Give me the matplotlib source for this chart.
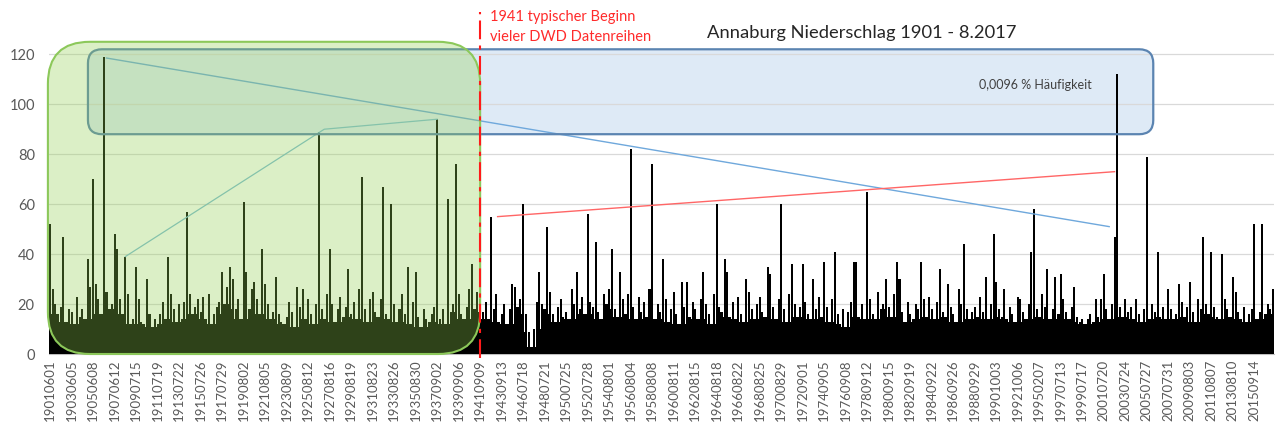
import matplotlib
matplotlib.use("Agg")
import matplotlib.pyplot as plt
from matplotlib.patches import FancyBboxPatch
from matplotlib.transforms import IdentityTransform
import numpy as np

plt.rcParams["font.family"] = ["Lato", "DejaVu Sans"]

# Niederschlag (mm), je Balken das Maximum eines ~3-Monats-Fensters,
# 8 Balken pro Beschriftungsintervall (~2 Jahre)
rain_mm = [
    52, 26, 20, 16, 19, 47, 13, 18,
    17, 12, 23, 15, 18, 14, 38, 27,
    70, 28, 22, 16, 119, 25, 18, 20,
    48, 42, 22, 16, 39, 24, 12, 14,
    35, 22, 13, 12, 30, 16, 11, 14,
    12, 16, 21, 14, 39, 24, 18, 13,
    20, 14, 21, 57, 24, 16, 19, 22,
    17, 23, 14, 24, 12, 16, 19, 21,
    33, 20, 27, 35, 30, 18, 22, 14,
    61, 33, 18, 26, 29, 22, 16, 42,
    28, 20, 14, 17, 31, 16, 13, 12,
    15, 21, 17, 11, 27, 19, 26, 14,
    22, 16, 12, 20, 89, 18, 14, 24,
    42, 20, 13, 18, 23, 15, 19, 34,
    16, 21, 14, 26, 71, 18, 13, 22,
    25, 17, 15, 22, 67, 16, 14, 60,
    20, 13, 18, 24, 16, 35, 12, 21,
    33, 15, 11, 18, 14, 13, 16, 19,
    94, 14, 18, 12, 62, 17, 20, 76,
    24, 16, 14, 19, 26, 36, 18, 25,
    22, 17, 21, 14, 55, 18, 24, 13,
    16, 20, 12, 18, 28, 27, 19, 22,
    60, 16, 9, 3, 10, 21, 33, 20,
    18, 51, 25, 16, 13, 19, 22, 15,
    17, 14, 26, 20, 33, 18, 23, 16,
    56, 21, 19, 45, 17, 14, 24, 20,
    26, 42, 18, 15, 33, 22, 16, 24,
    82, 19, 14, 23, 17, 21, 15, 26,
    76, 14, 20, 17, 38, 22, 13, 18,
    25, 16, 12, 29, 19, 29, 15, 21,
    18, 14, 22, 33, 20, 16, 12, 24,
    60, 19, 17, 38, 33, 15, 21, 14,
    23, 16, 13, 30, 25, 18, 14, 20,
    23, 17, 15, 35, 32, 19, 14, 22,
    60, 18, 13, 24, 36, 20, 15, 19,
    36, 21, 16, 14, 30, 18, 23, 15,
    37, 19, 13, 22, 41, 16, 12, 18,
    11, 17, 21, 37, 37, 15, 20, 14,
    65, 22, 16, 14, 25, 18, 20, 30,
    19, 15, 24, 37, 30, 17, 13, 21,
    16, 14, 20, 18, 37, 22, 15, 23,
    18, 14, 21, 34, 17, 15, 28, 19,
    16, 13, 26, 20, 44, 18, 14, 17,
    19, 15, 23, 17, 31, 14, 20, 48,
    29, 18, 15, 26, 14, 19, 16, 13,
    23, 22, 17, 14, 20, 41, 58, 18,
    15, 24, 19, 34, 14, 18, 31, 16,
    32, 22, 17, 14, 19, 27, 15, 13,
    14, 12, 14, 16, 13, 22, 15, 22,
    32, 18, 14, 20, 47, 112, 19, 15,
    22, 17, 19, 14, 22, 16, 13, 18,
    79, 14, 20, 17, 41, 15, 19, 14,
    26, 18, 14, 16, 28, 21, 15, 19,
    29, 17, 13, 22, 18, 47, 20, 16,
    41, 19, 15, 14, 40, 22, 18, 15,
    31, 25, 17, 14, 19, 13, 16, 18,
    52, 14, 17, 52, 16, 20, 18, 26,
]

date_labels = [
    "19010601", "19030605", "19050608", "19070612", "19090715", "19110719",
    "19130722", "19150726", "19170729", "19190802", "19210805", "19230809",
    "19250812", "19270816", "19290819", "19310823", "19330826", "19350830",
    "19370902", "19390906", "19410909", "19430913", "19460718", "19480721",
    "19500725", "19520728", "19540801", "19560804", "19580808", "19600811",
    "19620815", "19640818", "19660822", "19680825", "19700829", "19720901",
    "19740905", "19760908", "19780912", "19800915", "19820919", "19840922",
    "19860926", "19880929", "19901003", "19921006", "19950207", "19970713",
    "19990717", "20010720", "20030724", "20050727", "20070731", "20090803",
    "20110807", "20130810", "20150914",
]
BARS_PER_LABEL = 8

# Trendlinien (Balkenindex, mm)
blue_trend_x, blue_trend_y = [21, 394], [118.5, 51]
red_trend_x, red_trend_y = [166.5, 396], [55, 73]
peak_line_x, peak_line_y = [28, 102, 144], [39, 90, 94]
dwd_start_bar = 160

W, H = 1279, 441
fig = plt.figure(figsize=(W / 100, H / 100), dpi=100)
ax = fig.add_axes([48.7 / W, 87 / H, (1274.5 - 48.7) / W, (354 - 39.3) / H])

v = np.array(rain_mm)
x = np.arange(len(v))
# dichter Sockel: kleinster Wert der Nachbarn, damit die Masse geschlossen wirkt
floor = np.minimum.reduce([np.roll(v, k) for k in (-2, -1, 0, 1, 2)])
ax.bar(x, floor, width=1.0, color="black", linewidth=0, zorder=3)
ax.bar(x, v, width=0.75, color="black", linewidth=0, zorder=3)

ax.set_xlim(-0.5, len(v) - 0.5)
ax.set_ylim(0, 126)
ax.set_yticks(range(0, 121, 20))
ax.set_xticks(np.arange(len(date_labels)) * BARS_PER_LABEL)
ax.set_xticklabels(date_labels, rotation=90, fontsize=9.5, color="#595959")
ax.tick_params(axis="y", labelsize=10.5, colors="#595959", length=0, pad=10)
ax.tick_params(axis="x", length=0, pad=4)
ax.grid(axis="y", color="#d9d9d9", linewidth=0.9, zorder=0)
ax.set_axisbelow(True)
for s in ["top", "right", "left"]:
    ax.spines[s].set_visible(False)
ax.spines["bottom"].set_color("#bfbfbf")

# Linien
ax.plot(blue_trend_x, blue_trend_y, color="#6fa8dc", linewidth=1.0, zorder=4)
ax.plot(red_trend_x, red_trend_y, color="#ff6666", linewidth=1.0, zorder=4)
ax.plot(peak_line_x, peak_line_y, color="#7fbcd6", linewidth=0.9, zorder=4)
ax.axvline(dwd_start_bar, ymin=-0.013, ymax=1.087, color="#ff1a1a",
           linewidth=1.5, linestyle=(0, (9, 3, 2, 3)), clip_on=False, zorder=8)


def rounded_box(x0, y0, x1, y1, radius, **kw):
    (px0, py0), (px1, py1) = ax.transData.transform([(x0, y0), (x1, y1)])
    box = FancyBboxPatch((px0 + radius, py0 + radius),
                         px1 - px0 - 2 * radius, py1 - py0 - 2 * radius,
                         boxstyle=f"round,pad={radius},rounding_size={radius}",
                         transform=IdentityTransform(), clip_on=False, **kw)
    ax.add_artist(box)


# blauer Kasten (hinter den Balken), gruener Kasten darueber
rounded_box(14.1, 88, 410.4, 122, 14, facecolor="#c9dcf0", alpha=0.6,
            edgecolor="none", zorder=0.5)
rounded_box(14.1, 88, 410.4, 122, 14, facecolor="none",
            edgecolor="#5b84b1", linewidth=1.6, zorder=5)
rounded_box(-0.8, 0, 160, 125, 42, facecolor="#92d050", alpha=0.32,
            edgecolor="none", zorder=7)
rounded_box(-0.8, 0, 160, 125, 42, facecolor="none",
            edgecolor="#8cc85a", linewidth=1.5, zorder=7)

fig.text(862 / W, 1 - 33 / H, "Annaburg Niederschlag 1901 - 8.2017",
         ha="center", va="center", fontsize=13.2, color="#262626")
fig.text(490 / W, 1 - 27 / H, "1941 typischer Beginn\nvieler DWD Datenreihen",
         ha="left", va="center", fontsize=10.5, color="#ff2b2b", linespacing=1.5)
ax.text(366.5, 107.6, "0,0096 % Häufigkeit", ha="center", va="center",
        fontsize=9, color="#404040", zorder=6)

fig.savefig("out.png", dpi=100)
